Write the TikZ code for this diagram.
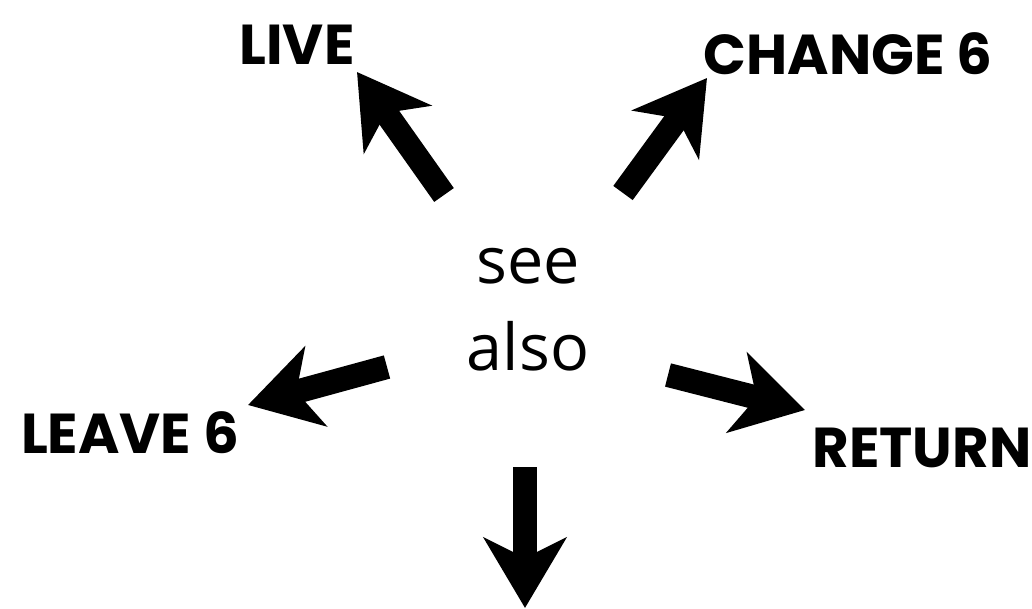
\documentclass[tikz,border=0pt]{standalone}
\usepackage{fontspec}
\setmainfont{Open Sans}
\newfontfamily\labelfont{Poppins}
\usetikzlibrary{arrows.meta}

\tikzset{
  seearrow/.style={line width=0.6cm, line cap=butt,
    -{Stealth[length=1.75cm,width=2.05cm,inset=0.5cm]}},
  seelabel/.style={anchor=base, inner sep=0pt,
    font=\labelfont\bfseries\fontsize{40}{44}\selectfont}
}

\begin{document}
\begin{tikzpicture}[x=0.025cm,y=-0.025cm]
    \useasboundingbox (0,0) rectangle (1032,609);

    \node[align=center, inner sep=0pt, font=\fontsize{46}{62}\selectfont]
      (seealso) at (528,310) {see\\also};

    \node[seelabel] (live) at (297,65) {LIVE};
    \node[seelabel] (change) at (848,75) {CHANGE 6};
    \node[seelabel] (leave) at (130,453) {LEAVE 6};
    \node[seelabel] (return) at (922,468) {RETURN};

    \foreach \n/\xa/\ya/\xb/\yb in {
        live/444/195/357/72,
        change/623/193/707/78,
        leave/387/367/248/405,
        return/668/375/805/410,
        down/525/467/525/608}{
      \coordinate (\n-tail) at (\xa,\ya);
      \coordinate (\n-tip) at (\xb,\yb);
      \draw[seearrow] (\n-tail) -- (\n-tip);
    }
  \end{tikzpicture}
\end{document}
